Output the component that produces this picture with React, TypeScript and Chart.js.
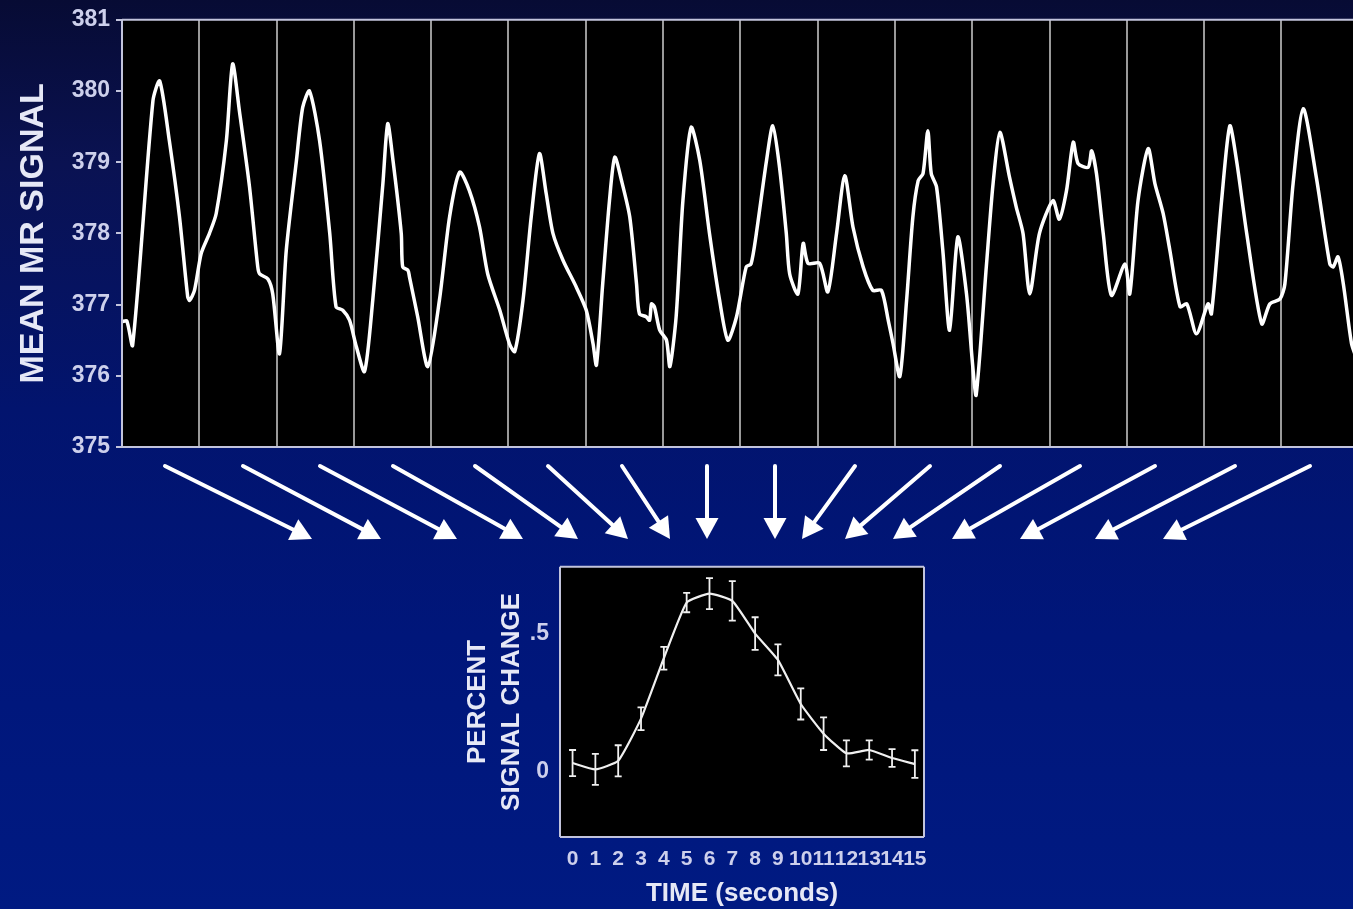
import React, { useEffect, useRef } from 'react';
import { Chart, registerables } from 'chart.js';

Chart.register(...registerables);

// ---- Top panel: raw MR signal over 16 trials (seconds) ----
const signalTime = [
  0, 1.0, 2.2, 6.4, 7.8, 9.8, 11.9, 13.6, 14.0, 15.0, 16.4, 18.1, 19.5, 21.6, 22.9, 24.3, 26.4, 28.1, 28.5, 30.2,
  31.2, 32.6, 34.0, 36.1, 37.4, 38.8, 40.9, 43.0, 44.3, 45.7, 47.1, 48.5, 50.2, 51.9, 54.0, 55.0, 56.1, 57.8, 58.1,
  59.2, 59.5, 61.2, 63.3, 65.7, 67.8, 69.9, 71.9, 74.0, 75.7, 78.2, 80.2, 81.3, 83.0, 84.7, 86.4, 87.8, 89.2, 91.3,
  94.0, 96.1, 97.5, 98.2, 99.5, 100.9, 102.0, 103.4, 105.1, 106.5, 107.1, 108.5, 109.2, 109.6, 110.2, 111.3, 112.7,
  113.4, 114.7, 116.1, 117.8, 119.6, 121.6, 123.7, 125.4, 127.2, 129.2, 130.2, 131.3, 133.4, 134.7, 136.1, 137.5,
  138.2, 139.9, 141.0, 142.0, 144.4, 146.1, 147.9, 149.6, 151.3, 153.4, 155.4, 157.2, 158.6, 159.6, 161.0, 162.4,
  163.7, 164.8, 165.8, 166.8, 167.5, 168.6, 169.9, 171.3, 173.0, 174.8, 176.1, 176.8, 178.9, 180.3, 181.7, 183.7,
  185.1, 186.5, 187.9, 189.9, 192.7, 194.0, 195.5, 196.9, 197.9, 200.0, 200.7, 201.7, 203.1, 204.8, 207.6, 208.6,
  210.3, 212.4, 213.8, 215.5, 216.9, 219.0, 220.4, 222.4, 224.8, 225.5, 227.6, 229.3, 230.7, 232.8, 235.9, 237.6,
  239.7, 240.7, 242.4, 244.5, 247.2, 250.0, 250.7, 251.7, 252.8, 254.5, 255.5,
];
const signalValue = [
  376.76, 376.77, 376.43, 379.86, 380.14, 379.3, 378.23, 377.11, 377.06, 377.2, 377.72, 378.0, 378.28, 379.3, 380.38,
  379.72, 378.65, 377.53, 377.43, 377.36, 377.15, 376.31, 377.76, 379.02, 379.77, 380.0, 379.3, 378.0, 376.97, 376.92,
  376.78, 376.41, 376.06, 377.06, 378.7, 379.54, 379.02, 378.0, 377.53, 377.48, 377.39, 376.83, 376.13, 377.06, 378.23,
  378.86, 378.6, 378.09, 377.43, 376.92, 376.45, 376.34, 377.06, 378.23, 379.12, 378.56, 378.0, 377.62, 377.25, 376.92,
  376.45, 376.15, 377.29, 378.46, 379.07, 378.74, 378.23, 377.29, 376.87, 376.83, 376.78, 377.01, 376.97, 376.64,
  376.5, 376.13, 376.83, 378.46, 379.49, 379.02, 378.0, 377.06, 376.5, 376.83, 377.53, 377.57, 378.0, 379.02, 379.51,
  378.93, 378.0, 377.43, 377.15, 377.86, 377.58, 377.58, 377.18, 378.0, 378.81, 378.09, 377.53, 377.2, 377.2, 376.78,
  376.45, 375.99, 377.06, 378.23, 378.74, 378.84, 379.44, 378.84, 378.65, 377.76, 376.64, 377.95, 377.15, 376.13,
  375.73, 377.53, 378.7, 379.42, 378.79, 378.37, 378.0, 377.15, 378.0, 378.46, 378.2, 378.6, 379.28, 378.98, 378.93,
  379.16, 378.84, 378.0, 377.13, 377.57, 377.15, 378.46, 379.19, 378.7, 378.28, 377.76, 376.97, 377.01, 376.59, 377.01,
  376.87, 378.46, 379.51, 379.02, 378.0, 376.73, 377.01, 377.08, 377.29, 378.7, 379.75, 378.79, 377.57, 377.53, 377.67,
  377.29, 376.45, 376.25,
];
const signalTicks = [375, 376, 377, 378, 379, 380, 381];
const trialStarts = [0, 16, 32, 48, 64, 80, 96, 112, 128, 144, 160, 176, 192, 208, 224, 240];

// ---- Bottom panel: averaged response ----
const timeSeconds = [0, 1, 2, 3, 4, 5, 6, 7, 8, 9, 10, 11, 12, 13, 14, 15];
const percentChange = [0.033, 0.01, 0.041, 0.193, 0.411, 0.612, 0.644, 0.618, 0.5, 0.405, 0.246, 0.139, 0.068, 0.08, 0.051, 0.029];
const percentError = [0.047, 0.056, 0.056, 0.041, 0.041, 0.035, 0.056, 0.071, 0.059, 0.056, 0.056, 0.059, 0.047, 0.035, 0.032, 0.05];
const percentTicks = [0, 0.5];

const FONT = "'Liberation Sans', Arial, Helvetica, sans-serif";
const TICK_COLOR = '#cdd0ec';
const TITLE_COLOR = '#e6e8f6';
const FRAME_COLOR = '#c2c4dc';

const panelPlugin = {
  id: 'panel',
  beforeDraw(chart: any) {
    const { ctx, chartArea: a } = chart;
    ctx.save();
    ctx.fillStyle = '#000000';
    ctx.fillRect(a.left, a.top, a.right - a.left, a.bottom - a.top);
    ctx.restore();
  },
  afterDraw(chart: any, _a: any, opts: any) {
    const { ctx, chartArea: a } = chart;
    const sides: string[] = opts.sides || ['left', 'top', 'right', 'bottom'];
    ctx.save();
    ctx.strokeStyle = FRAME_COLOR;
    ctx.lineWidth = 2;
    ctx.beginPath();
    if (sides.includes('left')) { ctx.moveTo(a.left, a.top); ctx.lineTo(a.left, a.bottom); }
    if (sides.includes('top')) { ctx.moveTo(a.left, a.top); ctx.lineTo(a.right, a.top); }
    if (sides.includes('right')) { ctx.moveTo(a.right, a.top); ctx.lineTo(a.right, a.bottom); }
    if (sides.includes('bottom')) { ctx.moveTo(a.left, a.bottom); ctx.lineTo(a.right, a.bottom); }
    ctx.stroke();
    ctx.restore();
  },
};

// decorative arrows from each trial down to the averaged plot
const arrowsPlugin = {
  id: 'arrows',
  afterDraw(chart: any) {
    const tails = [165, 243, 320, 393, 475, 548, 622, 707, 775, 855, 930, 1000, 1080, 1155, 1235, 1310];
    const heads = [312, 381, 457, 523, 578, 628, 670, 707, 775, 802, 845, 893, 952, 1020, 1095, 1163];
    const y0 = 466;
    const y1 = 539;
    const { ctx } = chart;
    ctx.save();
    ctx.strokeStyle = '#ffffff';
    ctx.fillStyle = '#ffffff';
    ctx.lineWidth = 4;
    ctx.lineCap = 'round';
    for (let i = 0; i < tails.length; i++) {
      const dx = heads[i] - tails[i];
      const dy = y1 - y0;
      const len = Math.hypot(dx, dy);
      const ux = dx / len;
      const uy = dy / len;
      const hl = 21;
      const hw = 11.5;
      const bx = heads[i] - ux * hl;
      const by = y1 - uy * hl;
      ctx.beginPath();
      ctx.moveTo(tails[i], y0);
      ctx.lineTo(bx + ux * 2, by + uy * 2);
      ctx.stroke();
      ctx.beginPath();
      ctx.moveTo(heads[i], y1);
      ctx.lineTo(bx - uy * hw, by + ux * hw);
      ctx.lineTo(bx + uy * hw, by - ux * hw);
      ctx.closePath();
      ctx.fill();
    }
    ctx.restore();
  },
};

const errorBarPlugin = {
  id: 'errorBars',
  afterDatasetsDraw(chart: any) {
    const { ctx } = chart;
    const xs = chart.scales.x;
    const ys = chart.scales.y;
    ctx.save();
    ctx.strokeStyle = '#f0f0f0';
    ctx.lineWidth = 1.8;
    for (let i = 0; i < timeSeconds.length; i++) {
      const x = xs.getPixelForValue(timeSeconds[i]);
      const yt = ys.getPixelForValue(percentChange[i] + percentError[i]);
      const yb = ys.getPixelForValue(percentChange[i] - percentError[i]);
      ctx.beginPath();
      ctx.moveTo(x, yt); ctx.lineTo(x, yb);
      ctx.moveTo(x - 3.5, yt); ctx.lineTo(x + 3.5, yt);
      ctx.moveTo(x - 3.5, yb); ctx.lineTo(x + 3.5, yb);
      ctx.stroke();
    }
    ctx.restore();
  },
};

export default function App() {
  const topRef = useRef<HTMLCanvasElement | null>(null);
  const botRef = useRef<HTMLCanvasElement | null>(null);

  useEffect(() => {
    const top = new Chart(topRef.current as HTMLCanvasElement, {
      type: 'line',
      data: {
        datasets: [
          {
            data: signalTime.map((t, i) => ({ x: t, y: signalValue[i] })),
            borderColor: '#ffffff',
            borderWidth: 3.5,
            pointRadius: 0,
            tension: 0.25,
            fill: false,
          },
        ],
      },
      options: {
        animation: false,
        responsive: false,
        devicePixelRatio: 1,
        layout: { padding: { top: 19, bottom: 103, left: 0, right: 0 } },
        plugins: {
          legend: { display: false },
          tooltip: { enabled: false },
          panel: { sides: ['left', 'top', 'bottom'] },
        } as any,
        scales: {
          x: {
            type: 'linear',
            min: 0,
            max: 254.8,
            afterBuildTicks: (s: any) => { s.ticks = trialStarts.map((v) => ({ value: v })); },
            ticks: { display: false },
            grid: { color: '#9a9a9a', lineWidth: 2, drawTicks: false },
            border: { display: false },
          },
          y: {
            type: 'linear',
            min: 375,
            max: 381,
            afterBuildTicks: (s: any) => { s.ticks = signalTicks.map((v) => ({ value: v })); },
            afterFit: (s: any) => { s.width = 122; },
            ticks: { color: TICK_COLOR, font: { family: FONT, size: 23, weight: 'bold' }, padding: 6 },
            grid: { drawOnChartArea: false, drawTicks: true, tickLength: 6, color: FRAME_COLOR, lineWidth: 2 },
            border: { display: false },
            title: {
              display: true,
              text: 'MEAN MR SIGNAL',
              color: TITLE_COLOR,
              font: { family: FONT, size: 34, weight: 'bold', lineHeight: 1.2 },
              padding: { top: 13, bottom: 0 },
            },
          },
        },
      },
      plugins: [panelPlugin, arrowsPlugin],
    } as any);

    const bot = new Chart(botRef.current as HTMLCanvasElement, {
      type: 'line',
      data: {
        datasets: [
          {
            data: timeSeconds.map((t, i) => ({ x: t, y: percentChange[i] })),
            borderColor: '#f0f0f0',
            borderWidth: 2.2,
            pointRadius: 0,
            tension: 0.15,
            fill: false,
          },
        ],
      },
      options: {
        animation: false,
        responsive: false,
        devicePixelRatio: 1,
        layout: { padding: { top: 12, right: 26, left: 0, bottom: 0 } },
        plugins: {
          legend: { display: false },
          tooltip: { enabled: false },
          panel: { sides: ['left', 'top', 'right', 'bottom'] },
        } as any,
        scales: {
          x: {
            type: 'linear',
            min: -0.55,
            max: 15.4,
            afterBuildTicks: (s: any) => { s.ticks = timeSeconds.map((v) => ({ value: v })); },
            afterFit: (s: any) => { s.height = 72; },
            ticks: {
              color: TICK_COLOR,
              font: { family: FONT, size: 21, weight: 'bold' },
              padding: 2,
              autoSkip: false,
              maxRotation: 0,
              minRotation: 0,
            },
            grid: { display: false },
            border: { display: false },
            title: {
              display: true,
              text: 'TIME (seconds)',
              color: TITLE_COLOR,
              font: { family: FONT, size: 26, weight: 'bold', lineHeight: 1.2 },
              padding: { top: 0, bottom: 0 },
            },
          },
          y: {
            type: 'linear',
            min: -0.234,
            max: 0.741,
            afterBuildTicks: (s: any) => { s.ticks = percentTicks.map((v) => ({ value: v })); },
            afterFit: (s: any) => { s.width = 120; },
            ticks: {
              color: TICK_COLOR,
              font: { family: FONT, size: 23, weight: 'bold' },
              padding: 3,
              callback: (v: any) => (v === 0 ? '0' : String(v).replace(/^0/, '')),
            },
            grid: { display: false },
            border: { display: false },
            title: {
              display: true,
              text: ['PERCENT', 'SIGNAL CHANGE'],
              color: TITLE_COLOR,
              font: { family: FONT, size: 26, weight: 'bold', lineHeight: 34 / 26 },
              padding: { top: 21, bottom: 0 },
            },
          },
        },
      },
      plugins: [panelPlugin, errorBarPlugin],
    } as any);

    return () => {
      top.destroy();
      bot.destroy();
    };
  }, []);

  return (
    <div
      style={{
        position: 'fixed',
        left: 0,
        top: 0,
        width: 1353,
        height: 909,
        overflow: 'hidden',
        background: 'linear-gradient(180deg, #070b34 0%, #0a1252 18%, #02146e 45%, #00167a 70%, #001a82 100%)',
      }}
    >
      <canvas ref={topRef} width={1353} height={550} style={{ position: 'absolute', left: 0, top: 0 }} />
      <canvas ref={botRef} width={510} height={359} style={{ position: 'absolute', left: 440, top: 550 }} />
    </div>
  );
}
